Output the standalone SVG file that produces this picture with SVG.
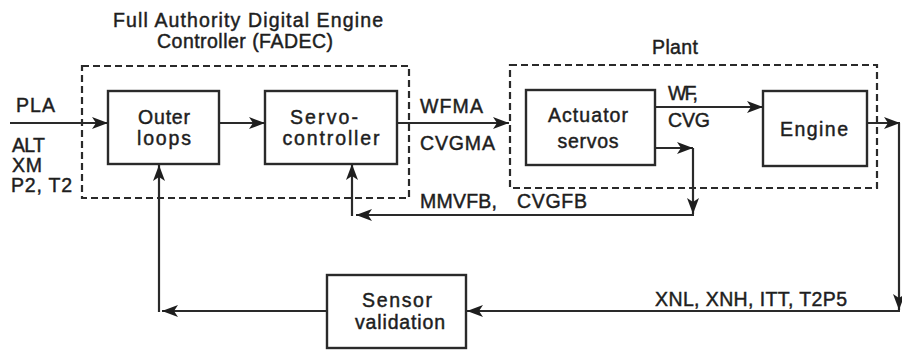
<svg xmlns="http://www.w3.org/2000/svg" width="902" height="350" viewBox="0 0 902 350">
  <style>
    text { font-family: "Liberation Sans", Arial, sans-serif; font-size: 19.5px; fill: #1e1e1e; stroke: #1e1e1e; stroke-width: 0.45px; }
    .mid { text-anchor: middle; }
    .box { fill: none; stroke: #2a2a2a; stroke-width: 2.4; }
    .frame { fill: none; stroke: #2a2a2a; stroke-width: 2.2; stroke-dasharray: 7 4; }
    .wire { fill: none; stroke: #2a2a2a; stroke-width: 2.2; marker-end: url(#head); }
  </style>
  <defs>
    <marker id="head" markerUnits="userSpaceOnUse" markerWidth="18" markerHeight="12" refX="16" refY="6" orient="auto">
      <path d="M0,0 L16,6 L0,12 L4,6 Z" fill="#1e1e1e"/>
    </marker>
  </defs>
  <rect width="902" height="350" fill="#ffffff"/>

  <!-- FADEC boundary -->
  <g id="fadec">
    <rect class="frame" x="82" y="66" width="327" height="132"/>
    <text class="mid" x="248" y="27" textLength="270">Full Authority Digital Engine</text>
    <text class="mid" x="245" y="48" textLength="176">Controller (FADEC)</text>
  </g>

  <!-- Plant boundary -->
  <g id="plant">
    <rect class="frame" x="510" y="65" width="367" height="123"/>
    <text class="mid" x="675" y="54" textLength="46">Plant</text>
  </g>

  <g id="outer-loops">
    <rect class="box" x="108" y="91" width="111" height="73"/>
    <text class="mid" x="164" y="124" textLength="52">Outer</text>
    <text class="mid" x="164" y="145" textLength="54">loops</text>
  </g>

  <g id="servo-controller">
    <rect class="box" x="265" y="91" width="132" height="73"/>
    <text class="mid" x="324" y="124" textLength="68">Servo-</text>
    <text class="mid" x="331" y="145" textLength="97">controller</text>
  </g>

  <g id="actuator-servos">
    <rect class="box" x="526" y="90" width="129" height="75"/>
    <text class="mid" x="588" y="122" textLength="80">Actuator</text>
    <text class="mid" x="588" y="148" textLength="61">servos</text>
  </g>

  <g id="engine">
    <rect class="box" x="763" y="91" width="104" height="75"/>
    <text class="mid" x="814" y="136" textLength="68">Engine</text>
  </g>

  <g id="sensor-validation">
    <rect class="box" x="327" y="275" width="139" height="73"/>
    <text class="mid" x="397" y="307" textLength="70">Sensor</text>
    <text class="mid" x="400" y="329" textLength="90">validation</text>
  </g>

  <!-- signal paths -->
  <g id="connectors">
    <path class="wire" d="M10,123 L108,123"/>
    <path class="wire" d="M219,123 L265,123"/>
    <path class="wire" d="M397,123 L509,123"/>
    <path class="wire" d="M655,107 L763,107"/>
    <path class="wire" d="M655,148 L693,148"/>
    <path class="wire" d="M693,148 L693,214"/>
    <path class="wire" d="M694,215 L356,215"/>
    <path class="wire" d="M352,216 L352,164"/>
    <path class="wire" d="M867,123 L900,123"/>
    <path class="wire" d="M899,123 L899,310"/>
    <path class="wire" d="M900,311 L467,311"/>
    <path class="wire" d="M327,311 L162,311"/>
    <path class="wire" d="M159,312 L159,165"/>
  </g>

  <!-- signal labels -->
  <g id="labels">
    <text x="16" y="112" textLength="39">PLA</text>
    <text x="12" y="152" textLength="33">ALT</text>
    <text x="12" y="172" textLength="30">XM</text>
    <text x="11" y="192" textLength="61">P2, T2</text>
    <text x="420" y="113" textLength="63">WFMA</text>
    <text x="420" y="150" textLength="75">CVGMA</text>
    <text x="668" y="100" textLength="30">WF,</text>
    <text x="668" y="127" textLength="42">CVG</text>
    <text x="420" y="208" textLength="77">MMVFB,</text>
    <text x="517" y="208" textLength="70">CVGFB</text>
    <text x="655" y="306" textLength="192">XNL, XNH, ITT, T2P5</text>
  </g>
</svg>
